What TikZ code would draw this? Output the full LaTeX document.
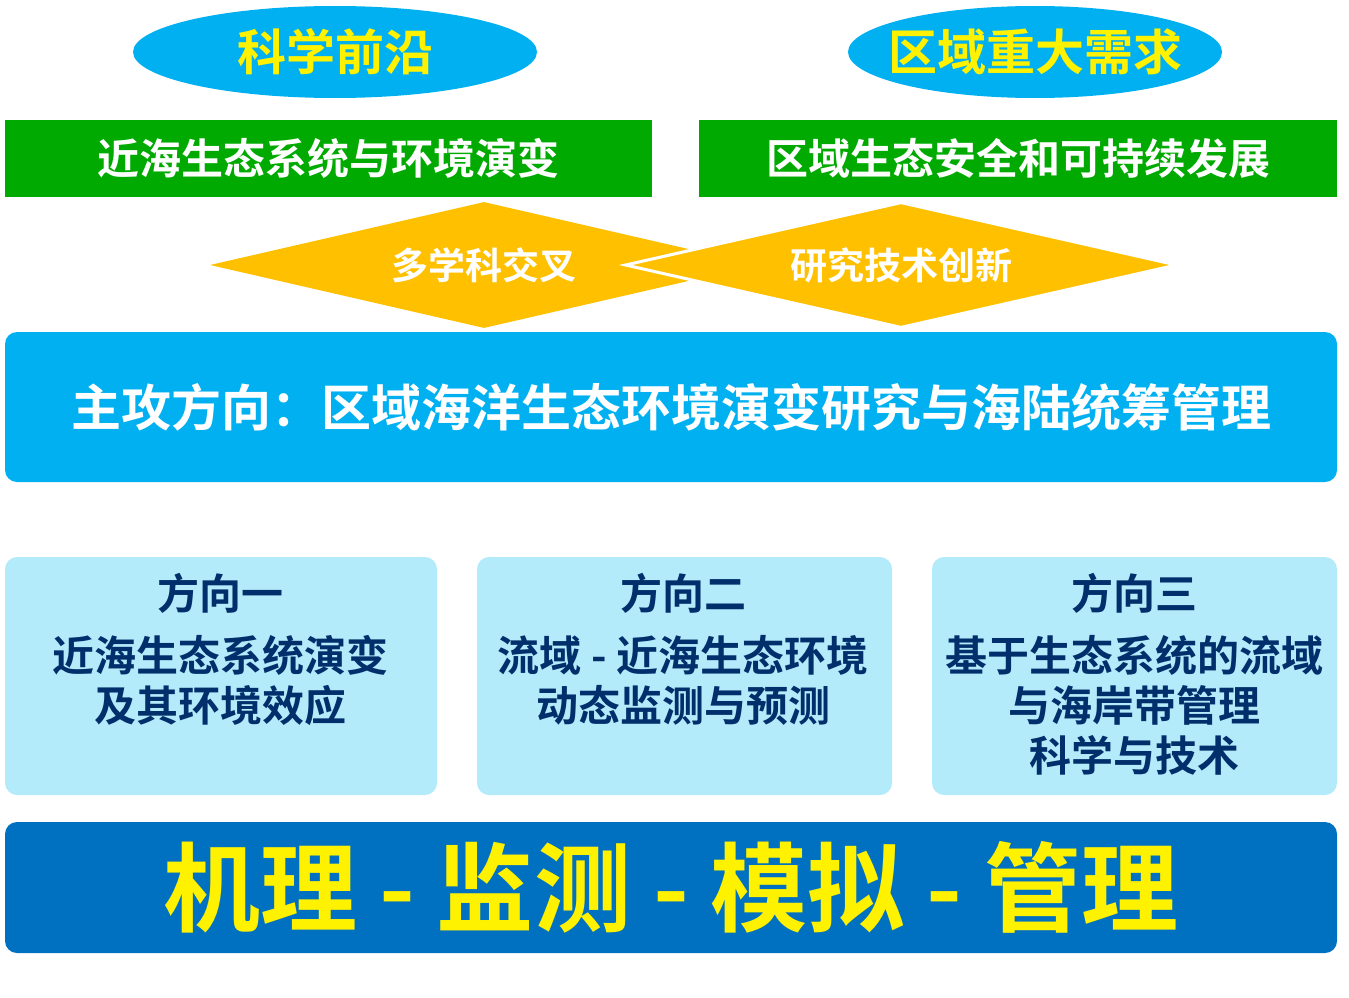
\documentclass[tikz,border=0pt]{standalone}
\usepackage{fontspec}
\setmainfont{Noto Sans CJK SC}[BoldFont={Noto Sans CJK SC Bold}]
\usetikzlibrary{shapes.geometric}
\definecolor{skyblue}{HTML}{00B0F0}
\definecolor{grass}{HTML}{00AA00}
\definecolor{amber}{HTML}{FFC000}
\definecolor{paleblue}{HTML}{B4EBFA}
\definecolor{navy}{HTML}{002F6C}
\definecolor{deepblue}{HTML}{0070C0}
\newcommand{\pts}[2]{\fontsize{#1}{#2}\selectfont\bfseries}
\tikzset{
    topic/.style={ellipse,fill=skyblue,inner sep=0pt,minimum height=92pt},
    topictext/.style={text=yellow,inner sep=0pt,font=\pts{49}{49}},
    themebar/.style={rectangle,fill=grass,inner sep=0pt,minimum height=77pt,
        text=white,font=\pts{42}{42}},
    crossing/.style={diamond,aspect=4.4,fill=amber,inner sep=0pt,
        minimum height=126pt,text=white,font=\pts{37}{37}},
    bigbar/.style={rectangle,rounded corners=12pt,inner sep=0pt,minimum width=1332pt},
    dirbox/.style={rectangle,rounded corners=12pt,fill=paleblue,inner sep=0pt,
        minimum height=238pt},
    dirtext/.style={text=navy,align=center,inner sep=0pt,font=\pts{42}{50}}
}
\begin{document}
\begin{tikzpicture}[x=1pt,y=-1pt]
    \useasboundingbox (0,0) rectangle (1349,998);
    % top goals
    \node[topic,minimum width=404pt] (front) at (335,52) {};
    \node[topic,minimum width=374pt] (need) at (1035,52) {};
    \node[topictext] (frontname) at (front.center) {科学前沿};
    \node[topictext] (needname) at (need.center) {区域重大需求};
    \node[themebar,minimum width=647pt] (sea) at (328.5,158.5) {近海生态系统与环境演变};
    \node[themebar,minimum width=638pt] (safe) at (1018,158.5) {区域生态安全和可持续发展};
    % crossing diamonds
    \node[crossing,minimum width=548pt] (multi) at (484,265) {多学科交叉};
    \node[crossing,minimum width=552pt,draw=white,line width=3pt] (tech) at (901,265) {研究技术创新};
    % main direction
    \node[bigbar,fill=skyblue,minimum height=150pt,text=white,font=\pts{50}{50}] (main) at (671,407)
        {主攻方向：区域海洋生态环境演变研究与海陆统筹管理};
    % three directions
    \node[dirbox,minimum width=432pt] (dirA) at (221,676) {};
    \node[dirbox,minimum width=415pt] (dirB) at (684.5,676) {};
    \node[dirbox,minimum width=405pt] (dirC) at (1134.5,676) {};
    \node[dirtext] (titleA) at (220,593) {方向一};
    \node[dirtext] (titleB) at (683,593) {方向二};
    \node[dirtext] (titleC) at (1134,593) {方向三};
    \node[dirtext] (bodyA) at (220,680) {近海生态系统演变\\及其环境效应};
    \node[dirtext] (bodyB) at (683,680) {流域 - 近海生态环境\\动态监测与预测};
    \node[dirtext] (bodyC) at (1134,705) {基于生态系统的流域\\与海岸带管理\\科学与技术};
    % base
    \node[bigbar,fill=deepblue,minimum height=131pt,text=yellow,font=\pts{97}{97}] (base) at (671,887.5)
        {机理 - 监测 - 模拟 - 管理};
\end{tikzpicture}
\end{document}
